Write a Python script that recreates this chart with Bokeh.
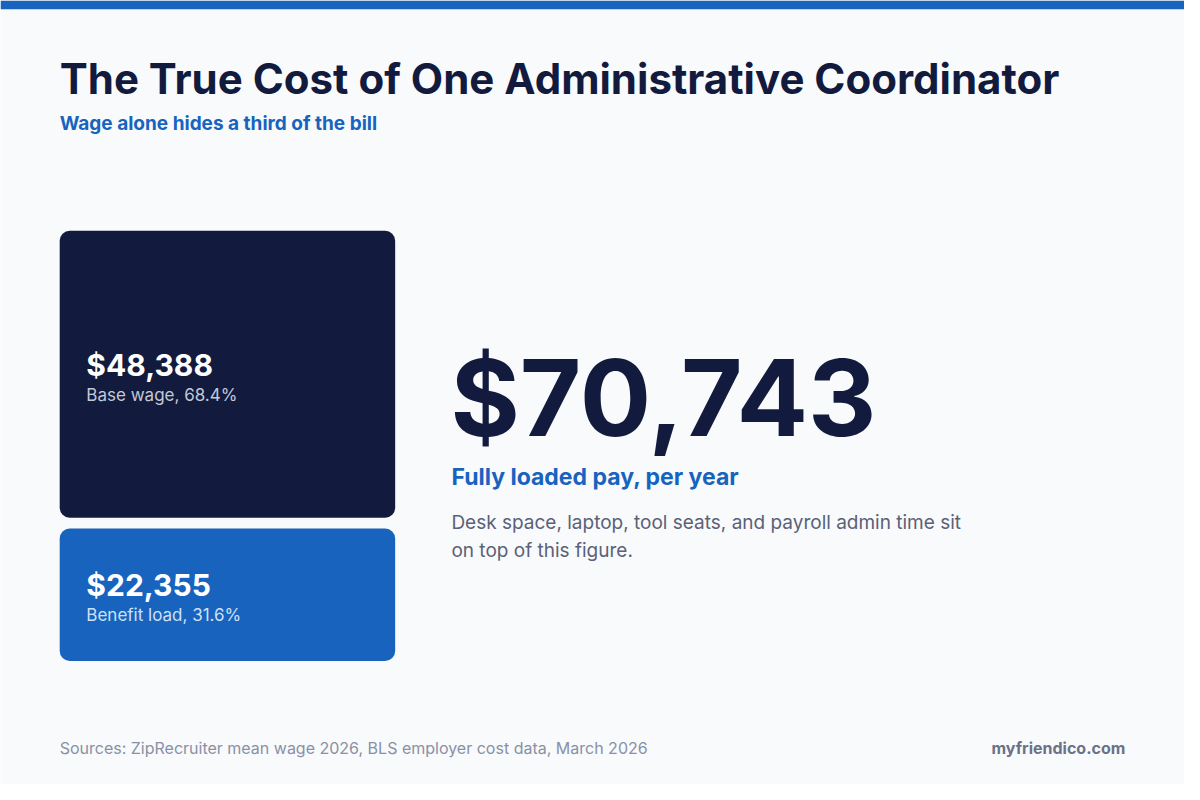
from bokeh.core.properties import value
from bokeh.embed import file_html
from bokeh.models import ColumnDataSource, Range1d
from bokeh.plotting import figure
from bokeh.resources import INLINE

# -- data
title = "The True Cost of One Administrative Coordinator"
subtitle = "Wage alone hides a third of the bill"
segments = ["Base wage", "Benefit load"]
amounts = [48388, 22355]
total_label = "Fully loaded pay, per year"
note_lines = ["Desk space, laptop, tool seats, and payroll admin time sit",
              "on top of this figure."]
source_note = "Sources: ZipRecruiter mean wage 2026, BLS employer cost data, March 2026"
brand = "myfriendico.com"

NAVY = "#121b3e"
BLUE = "#1763be"
BG = "#f8fafc"
FONT = value("Inter")


def base(y, size):
    # svg text sits ~0.39em lower than the requested alphabetic baseline
    return y - 0.39 * size


total = sum(amounts)
shares = [a / total * 100 for a in amounts]

# stacked boxes, heights proportional to the amounts
box_top, box_bottom, gap = 235, 674, 11
usable = box_bottom - box_top - gap
tops, bottoms = [], []
cur = box_top
for a in amounts:
    h = usable * a / total
    tops.append(cur)
    bottoms.append(cur + h)
    cur += h + gap

boxes = ColumnDataSource(dict(
    left=[60] * len(amounts), right=[400] * len(amounts),
    top=tops, bottom=bottoms, color=[NAVY, BLUE],
    mid=[(t + b) / 2 for t, b in zip(tops, bottoms)],
    amount=[f"${a:,}" for a in amounts],
    desc=[f"{s}, {v:.1f}%" for s, v in zip(segments, shares)],
    desc_color=["#c3c8d8", "#cfe0f5"],
))

p = figure(width=1184, height=784, output_backend="svg", toolbar_location=None,
           x_range=Range1d(0, 1200), y_range=Range1d(800, 0), min_border=0)
p.axis.visible = False
p.grid.visible = False
p.outline_line_color = None
p.background_fill_color = BG
p.border_fill_color = BG

# top bar
p.quad(left=[0], right=[1200], top=[0], bottom=[9], color=BLUE, line_color=None)

p.text(x=[60], y=[base(96, 42)], text=[title], text_font=FONT, text_font_style="bold",
       text_font_size="42px", text_color=NAVY, text_baseline="alphabetic")
p.text(x=[60], y=[base(133, 19)], text=[subtitle], text_font=FONT, text_font_style="bold",
       text_font_size="19px", text_color=BLUE, text_baseline="alphabetic")

p.quad(left="left", right="right", top="top", bottom="bottom", color="color",
       line_color=None, border_radius=10, source=boxes)
p.text(x=87, y="mid", text="amount", source=boxes, text_font=FONT, text_font_style="bold",
       text_font_size="30px", text_color="white", text_baseline="alphabetic",
       y_offset=2 - 0.39 * 30)
p.text(x=87, y="mid", text="desc", source=boxes, text_font=FONT,
       text_font_size="17px", text_color="desc_color", text_baseline="alphabetic",
       y_offset=27 - 0.39 * 17)

# headline total
p.text(x=[456], y=[base(446, 106)], text=[f"${total:,}"], text_font=FONT,
       text_font_style="bold", text_font_size="106px", text_color=NAVY,
       text_baseline="alphabetic")
p.text(x=[457], y=[base(495, 23)], text=[total_label], text_font=FONT,
       text_font_style="bold", text_font_size="23px", text_color=BLUE,
       text_baseline="alphabetic")
p.text(x=[457, 457], y=[base(540, 19), base(569, 19)], text=note_lines, text_font=FONT,
       text_font_size="19px", text_color="#5b6177", text_baseline="alphabetic")

# footer
p.text(x=[60], y=[base(769, 16)], text=[source_note], text_font=FONT,
       text_font_size="16px", text_color="#8a90a6", text_baseline="alphabetic")
p.text(x=[1140], y=[base(769, 16)], text=[brand], text_font=FONT, text_font_style="bold",
       text_font_size="16px", text_color="#6b7186", text_baseline="alphabetic",
       text_align="right")

open("out.html", "w").write(file_html(p, INLINE))
